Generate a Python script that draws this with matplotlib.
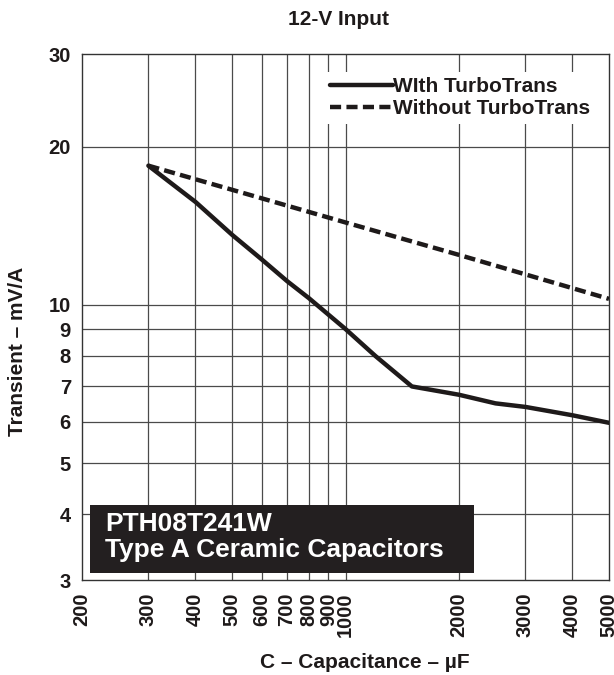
import numpy as np
import matplotlib
matplotlib.use("Agg")
import matplotlib.pyplot as plt
from matplotlib.patches import Rectangle

plt.rcParams['font.family'] = ['Liberation Sans', 'DejaVu Sans']
plt.rcParams['font.weight'] = 'bold'

# Datos
#--------------------------------------
cap_with     = [300, 400, 500, 600, 700, 800, 1000, 1200, 1500, 2000, 2500, 3000, 4000, 5000]
trans_with   = [18.4, 15.7, 13.6, 12.2, 11.1, 10.3, 9.0, 8.0, 7.0, 6.75, 6.5, 6.4, 6.17, 5.97]
cap_without   = [300, 1000, 2000, 5000]
trans_without = [18.4, 14.35, 12.45, 10.27]

xticks  = [200, 300, 400, 500, 600, 700, 800, 900, 1000, 2000, 3000, 4000, 5000]
yticks  = [3, 4, 5, 6, 7, 8, 9, 10, 20, 30]
#--------------------------------------

W, H = 614, 675
fig = plt.figure(figsize=(W/100, H/100), dpi=100)
ax  = fig.add_axes([82/W, 1-580/H, 527/W, 526/H])

ax.set_xscale('log')
ax.set_yscale('log')
ax.set_xlim(200, 5000)
ax.set_ylim(3, 30)

# grilla
for xv in xticks[1:-1]:
    ax.axvline(xv, color='#4a4a4a', linewidth=0.9, zorder=1)
for yv in yticks[1:-1]:
    ax.axhline(yv, color='#4a4a4a', linewidth=0.9, zorder=1)

ax.plot(cap_with, trans_with, color='#1e1a1a', linewidth=3.2, solid_capstyle='round',
        label='WIth TurboTrans', zorder=3)
ax.plot(cap_without, trans_without, color='#1e1a1a', linewidth=3.2, linestyle=(0, (2.5, 1.2)),
        label='Without TurboTrans', zorder=3)

ax.xaxis.set_major_locator(matplotlib.ticker.FixedLocator(xticks))
ax.xaxis.set_minor_locator(matplotlib.ticker.NullLocator())
ax.yaxis.set_major_locator(matplotlib.ticker.FixedLocator(yticks))
ax.yaxis.set_minor_locator(matplotlib.ticker.NullLocator())
ax.set_xticklabels([str(v) for v in xticks], rotation=90, fontsize=14.5, fontweight='bold',
                   color='#1e1a1a')
ax.set_yticklabels([str(v) for v in yticks], fontsize=14.5, fontweight='bold', color='#1e1a1a')
ax.tick_params(axis='x', length=0, pad=9)
ax.tick_params(axis='y', length=0, pad=8)

for sp in ax.spines.values():
    sp.set_color('#333333')
    sp.set_linewidth(1.0)

ax.set_xlabel('C – Capacitance – µF', fontsize=15, fontweight='bold', color='#1e1a1a', va='center')
ax.xaxis.set_label_coords((365-82)/527, (580-662)/526)
ax.set_ylabel('Transient – mV/A', fontsize=15, fontweight='bold', color='#1e1a1a', va='center')
ax.yaxis.set_label_coords((17.5-82)/527, (580-351)/526)
fig.text(339/W, 1-19.5/H, '12-V Input', fontsize=15, fontweight='bold', color='#1e1a1a',
         ha='center', va='center')

leg = ax.legend(loc='upper right', bbox_to_anchor=((595-82)/527, 1 - 18/526), frameon=True,
                fancybox=False, framealpha=1, edgecolor='white', fontsize=15,
                handlelength=3.0, handletextpad=0.0, labelspacing=0.15,
                borderpad=0.25, borderaxespad=0)
leg.get_frame().set_linewidth(0)
for t in leg.get_texts():
    t.set_color('#1e1a1a')

# caja de texto
fig.patches.append(Rectangle((90/W, 1-573/H), 384/W, 68/H,
                             transform=fig.transFigure, facecolor='#231f20',
                             edgecolor='none', zorder=5))
fig.text(105/W, 1-531/H, 'PTH08T241W', color='white', fontsize=19,
         fontweight='bold', va='baseline', ha='left', zorder=6)
fig.text(105/W, 1-557/H, 'Type A Ceramic Capacitors', color='white', fontsize=19,
         fontweight='bold', va='baseline', ha='left', zorder=6)

fig.savefig('out.png', dpi=100)
